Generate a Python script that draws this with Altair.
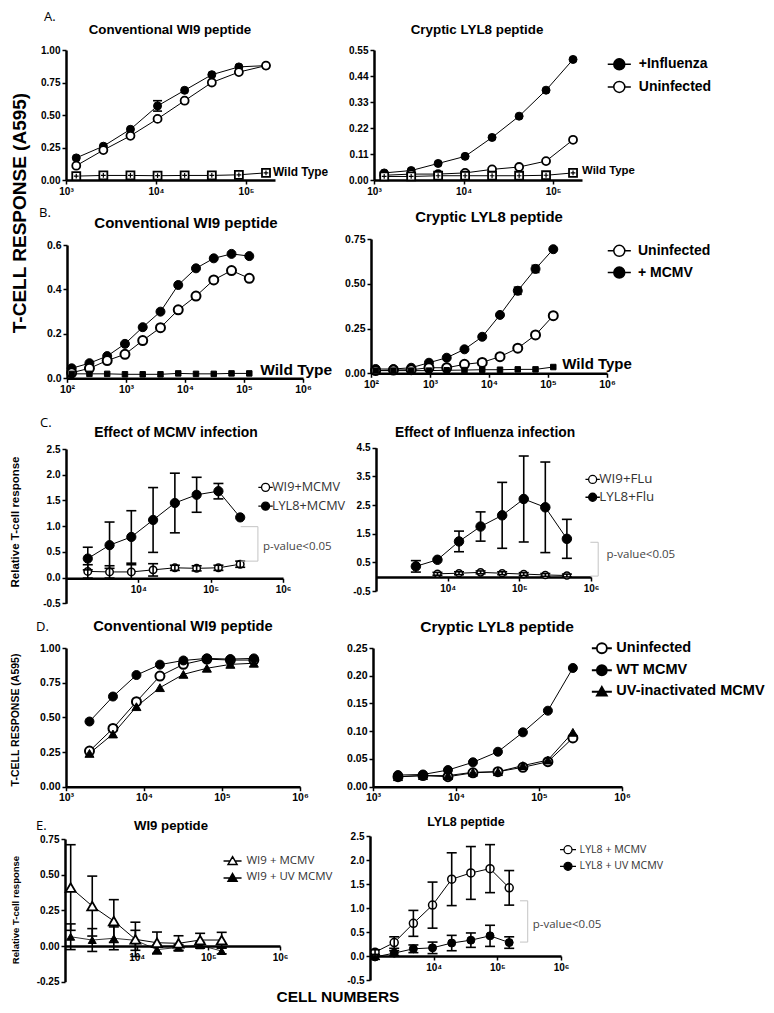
import altair as alt
import pandas as pd

OFF = 8
W, H = 758, 997
BOLD = "Liberation Sans, Arial, Helvetica, DejaVu Sans, sans-serif"
THIN = "Open Sans, DejaVu Sans, sans-serif"


def g(p):
    return p - OFF


# ---------------- data ----------------
A_X = [1300, 2600, 5200, 10400, 20800, 41700, 83300, 166700]
A_L_FLU = [0.17, 0.26, 0.39, 0.57, 0.69, 0.81, 0.87, 0.88]
A_L_FLU_ERR = [0, 0, 0, 0.04, 0, 0, 0, 0]
A_L_UNINF = [0.11, 0.23, 0.34, 0.47, 0.61, 0.75, 0.83, 0.88]
A_L_WT = [0.03, 0.035, 0.035, 0.033, 0.035, 0.035, 0.04, 0.055]
A_R_FLU = [0.03, 0.04, 0.07, 0.10, 0.18, 0.27, 0.38, 0.51]
A_R_UNINF = [0.02, 0.025, 0.025, 0.03, 0.045, 0.055, 0.08, 0.17]
A_R_WT = [0.015, 0.015, 0.018, 0.018, 0.018, 0.018, 0.02, 0.03]

B_X = [120, 240, 480, 960, 1920, 3840, 7680, 15360, 30720, 61440, 122880]
B_L_MCMV = [0.045, 0.068, 0.10, 0.155, 0.23, 0.30, 0.42, 0.495, 0.54, 0.56, 0.55]
B_L_UNINF = [0.025, 0.045, 0.08, 0.108, 0.17, 0.228, 0.308, 0.37, 0.443, 0.485, 0.45]
B_L_WT = [0.02, 0.02, 0.02, 0.018, 0.018, 0.018, 0.022, 0.02, 0.02, 0.022, 0.022]
B_R_MCMV = [0.024, 0.024, 0.031, 0.059, 0.087, 0.134, 0.204, 0.326, 0.461, 0.583, 0.693]
B_R_MCMV_ERR = [0, 0, 0, 0, 0, 0, 0, 0, 0.02, 0.02, 0]
B_R_UNINF = [0.015, 0.018, 0.02, 0.031, 0.031, 0.05, 0.061, 0.093, 0.14, 0.214, 0.322]
B_R_WT = [0.015, 0.015, 0.015, 0.015, 0.017, 0.018, 0.02, 0.02, 0.022, 0.022, 0.035]

C_L_X = [2000, 4000, 8000, 16000, 32000, 64000, 128000, 256000]
C_L_WI9 = [0.12, 0.11, 0.11, 0.15, 0.19, 0.18, 0.19, 0.26]
C_L_WI9_ERR = [0.13, 0.12, 0.14, 0.12, 0.05, 0.05, 0.05, 0.06]
C_L_LYL8 = [0.37, 0.63, 0.79, 1.12, 1.45, 1.61, 1.68, 1.17]
C_L_LYL8_ERR = [0.22, 0.45, 0.51, 0.63, 0.58, 0.34, 0.15, 0.0]

C_R_X = [3600, 7200, 14400, 28800, 57600, 115200, 230400, 460800]
C_R_WI9 = [0.10, 0.12, 0.15, 0.12, 0.09, 0.06, 0.04]
C_R_WI9_ERR = [0.05, 0.05, 0.05, 0.05, 0.05, 0.05, 0.05]
C_R_LYL8 = [0.36, 0.59, 1.23, 1.75, 2.14, 2.71, 2.42, 1.32]
C_R_LYL8_ERR = [0.2, 0.0, 0.36, 0.51, 1.15, 1.5, 1.58, 0.68]

D_X = [2000, 4000, 8000, 16000, 32000, 64000, 128000, 256000]
D_L_UNINF = [0.257, 0.42, 0.613, 0.798, 0.882, 0.92, 0.913, 0.913]
D_L_WT = [0.47, 0.65, 0.805, 0.88, 0.91, 0.925, 0.92, 0.925]
D_L_UV = [0.24, 0.38, 0.577, 0.714, 0.81, 0.854, 0.882, 0.89]
D_R_UNINF = [0.018, 0.02, 0.018, 0.025, 0.027, 0.035, 0.045, 0.088]
D_R_WT = [0.021, 0.022, 0.030, 0.044, 0.063, 0.098, 0.137, 0.214]
D_R_UV = [0.018, 0.02, 0.02, 0.026, 0.027, 0.038, 0.048, 0.098]

E_X = [1200, 2400, 4800, 9600, 19200, 38400, 76800, 153600]
E_L_MCMV = [0.41, 0.28, 0.175, 0.047, 0.023, 0.019, 0.042, 0.042]
E_L_MCMV_ERR = [0.30, 0.21, 0.15, 0.12, 0.075, 0.053, 0.047, 0.054]
E_L_UV = [0.065, 0.042, 0.054, 0.04, -0.025, -0.01, 0.005, -0.035]
E_L_UV_ERR = [0.09, 0.08, 0.08, 0.07, 0.03, 0.02, 0.02, 0.02]
E_R_MCMV = [0.08, 0.28, 0.68, 1.06, 1.60, 1.73, 1.82, 1.42]
E_R_MCMV_ERR = [0.05, 0.12, 0.27, 0.48, 0.55, 0.55, 0.5, 0.36]
E_R_UV = [-0.02, 0.06, 0.15, 0.17, 0.27, 0.33, 0.42, 0.28]
E_R_UV_ERR = [0.05, 0.05, 0.08, 0.12, 0.16, 0.15, 0.22, 0.12]

# ---------------- styling helpers ----------------
KINDS = {
    "fc": ("circle", "black"),
    "oc": ("circle", "white"),
    "ft": ("triangle-up", "black"),
    "ot": ("triangle-up", "white"),
    "sq": ("square", "white"),
    "fs": ("square", "black"),
}

SUP = ("'10' + ['\u2070','\u00b9','\u00b2','\u00b3','\u2074','\u2075','\u2076',"
       "'\u2077','\u2078','\u2079'][round(log(datum.value)/LN10)]")


def stub_path(shape, k):
    if shape == "triangle-up":
        return f"M{-k},0.1L-0.62,0.1M0.62,0.1L{k},0.1M0,-0.866L1,0.866L-1,0.866Z"
    return f"M{-k},0L-1,0M1,0L{k},0M-1,0A1,1,0,1,1,1,0A1,1,0,1,1,-1,0Z"


def ser(label, xs, ys, kind, size, errs=None, sw=1.5, lw=1.0):
    return dict(label=label, x=xs, y=ys, e=errs if errs else [0] * len(xs),
                kind=kind, size=size, sw=sw, lw=lw)


def panel(c, series, legend=None, wt=None, note=None, bracket=None, err_top=False):
    rows = []
    for s in series:
        for x, y, e in zip(s["x"], s["y"], s["e"]):
            rows.append({"x": x, "y": y, "lo": y - e, "hi": y + e, "e": e, "s": s["label"]})
    df = pd.DataFrame(rows)
    xs = alt.Scale(type="log", domain=c["xdom"], range=[g(c["xr"][0]), g(c["xr"][1])], nice=False)
    ys = alt.Scale(type="linear", domain=c["ydom"], range=[g(c["yr"][0]), g(c["yr"][1])],
                   nice=False, zero=False)
    xa = alt.Axis(orient="bottom", offset=g(c["xaxis"]) - H, values=c["xticks"], labelExpr=SUP,
                  title=None, labelFontSize=c["fs"], labelFlush=False, labelOverlap=False)
    ya = alt.Axis(orient="left", offset=-g(c["xr"][0]), values=c["yticks"],
                  labelExpr="replace(format(datum.value, '%s'), '\u2212', '-')" % c["yfmt"],
                  title=None, labelFontSize=c["fs"], labelOverlap=False)

    def X(f="x"):
        return alt.X(f + ":Q", scale=xs, axis=xa)

    def Y(f="y"):
        return alt.Y(f + ":Q", scale=ys, axis=ya)

    base = alt.Chart(df)
    lines, errs, pts = [], [], []
    for s in series:
        sub = base.transform_filter(alt.datum.s == s["label"])
        lines.append(sub.mark_line(color="black", strokeWidth=s["lw"]).encode(x=X(), y=Y()))
        if any(s["e"]):
            se = sub.transform_filter(alt.datum.e > 0)
            errs.append(se.mark_rule(color="black", strokeWidth=1.6).encode(
                x=X(), y=Y("lo"), y2=alt.Y2("hi:Q")))
            for f in ("lo", "hi"):
                errs.append(se.mark_point(shape="M-1,0L1,0", size=c["cap"] ** 2, stroke="black",
                                          strokeWidth=1.6, filled=False, opacity=1).encode(
                    x=X(), y=Y(f)))
        shape, fill = KINDS[s["kind"]]
        pts.append(sub.mark_point(shape=shape, size=s["size"], filled=True, fill=fill,
                                  stroke="black", strokeWidth=s["sw"], opacity=1).encode(
            x=X(), y=Y()))
        if s["kind"] == "sq":
            pts.append(sub.mark_point(shape="M-0.6,0L0.6,0M0,-0.6L0,0.6", size=s["size"],
                                      filled=False, stroke="black", strokeWidth=1.2,
                                      opacity=1).encode(x=X(), y=Y()))
    layers = lines + ((pts + errs) if err_top else (errs + pts))

    if wt:
        s = series[-1]
        tdf = pd.DataFrame({"x": [s["x"][-1]], "y": [s["y"][-1]], "t": ["Wild Type"]})
        layers.append(alt.Chart(tdf).mark_text(
            align="left", baseline="middle", dx=wt["dx"], dy=wt["dy"], font=BOLD,
            fontWeight="bold", fontSize=wt["fs"], color="black").encode(x=X(), y=Y(), text="t:N"))
    if bracket:
        bdf = pd.DataFrame({"x": bracket["x"], "y": bracket["y"], "o": list(range(len(bracket["x"])))})
        layers.append(alt.Chart(bdf).mark_line(color="#c4c4c4", strokeWidth=1).encode(
            x=X(), y=Y(), order="o:Q"))
    if note:
        ndf = pd.DataFrame({"x": [note["x"]], "y": [note["y"]], "t": ["p-value<0.05"]})
        layers.append(alt.Chart(ndf).mark_text(
            align="left", baseline="middle", font=THIN, fontSize=note["fs"],
            color="#444444").encode(x=X(), y=Y(), text="t:N"))
    if legend:
        dom = [lab for lab, k in legend["entries"]]
        fills = [KINDS[k][1] for lab, k in legend["entries"]]
        paths = [stub_path(KINDS[k][0], legend["k"]) for lab, k in legend["entries"]]
        L = alt.Legend(orient="none", legendX=g(legend["x"]), legendY=g(legend["y"]), title=None,
                       padding=0, labelFont=legend["font"], labelFontSize=legend["fs"],
                       labelFontWeight=legend["fw"], labelColor=legend["color"],
                       labelOffset=legend["lo"], rowPadding=legend["rp"],
                       symbolSize=legend["size"], symbolStrokeWidth=legend["sw"],
                       symbolStrokeColor="black", labelLimit=0)
        leg = base.transform_filter("false").mark_point(
            filled=True, strokeWidth=legend["sw"], opacity=1).encode(
            fill=alt.Fill("s:N", scale=alt.Scale(domain=dom, range=fills), legend=L),
            stroke=alt.Stroke("s:N", scale=alt.Scale(domain=dom, range=["black"] * len(dom)), legend=L),
            shape=alt.Shape("s:N", scale=alt.Scale(domain=dom, range=paths), legend=L))
        layers.append(leg)
    return alt.layer(*layers)


# ---------------- panels ----------------
panels = []

cA_L = dict(xdom=[1000, 10 ** 5.322], xr=[66, 275], ydom=[0, 1], yr=[180, 50], xaxis=180,
            xticks=[1e3, 1e4, 1e5], yticks=[0, 0.25, 0.5, 0.75, 1.0], yfmt=".2f", fs=10, cap=9)
panels.append(panel(cA_L, [
    ser("+Influenza", A_X, A_L_FLU, "fc", 64, A_L_FLU_ERR, sw=1),
    ser("Uninfected", A_X, A_L_UNINF, "oc", 64, sw=1.8),
    ser("Wild Type", A_X, A_L_WT, "sq", 64, sw=1.8),
], wt=dict(dx=7, dy=-1, fs=11.9)))

cA_R = dict(xdom=[1000, 10 ** 5.322], xr=[374, 582], ydom=[0, 0.55], yr=[180, 50], xaxis=180,
            xticks=[1e3, 1e4, 1e5], yticks=[0, 0.11, 0.22, 0.33, 0.44, 0.55], yfmt=".2f", fs=10, cap=9)
panels.append(panel(cA_R, [
    ser("+Influenza", A_X, A_R_FLU, "fc", 64, sw=1),
    ser("Uninfected", A_X, A_R_UNINF, "oc", 64, sw=1.8),
    ser("Wild Type", A_X, A_R_WT, "sq", 64, sw=1.8),
], wt=dict(dx=9, dy=-2, fs=11.4),
    legend=dict(entries=[("+Influenza", "fc"), ("Uninfected", "oc")], x=612.3, y=57.3, k=2.1,
                font=BOLD, fs=14, fw="bold", color="black", lo=12.5, rp=4.6, size=121, sw=1.5)))

cB_L = dict(xdom=[100, 1e6], xr=[67, 303], ydom=[0, 0.6], yr=[378.3, 245], xaxis=378.3,
            xticks=[1e2, 1e3, 1e4, 1e5, 1e6], yticks=[0, 0.2, 0.4, 0.6], yfmt=".1f", fs=10.5, cap=8)
panels.append(panel(cB_L, [
    ser("+ MCMV", B_X, B_L_MCMV, "fc", 81, sw=1),
    ser("Uninfected", B_X, B_L_UNINF, "oc", 81, sw=2),
    ser("Wild Type", B_X, B_L_WT, "fs", 30, sw=1),
], wt=dict(dx=11, dy=-3.5, fs=15.5)))

cB_R = dict(xdom=[100, 1e6], xr=[371, 607], ydom=[0, 0.75], yr=[373.3, 239], xaxis=373.3,
            xticks=[1e2, 1e3, 1e4, 1e5, 1e6], yticks=[0, 0.25, 0.5, 0.75], yfmt=".2f", fs=10.5, cap=8)
panels.append(panel(cB_R, [
    ser("+ MCMV", B_X, B_R_MCMV, "fc", 81, B_R_MCMV_ERR, sw=1),
    ser("Uninfected", B_X, B_R_UNINF, "oc", 81, sw=2),
    ser("Wild Type", B_X, B_R_WT, "fs", 30, sw=1),
], wt=dict(dx=9, dy=-3, fs=15),
    legend=dict(entries=[("Uninfected", "oc"), ("+ MCMV", "fc")], x=612.3, y=243.8, k=2.1,
                font=BOLD, fs=14, fw="bold", color="black", lo=11.7, rp=3.8, size=121, sw=1.5)))

cC_L = dict(xdom=[1000, 1e6], xr=[66, 283], ydom=[-0.5, 2.5], yr=[603.3, 449], xaxis=578.3,
            xticks=[1e4, 1e5, 1e6], yticks=[-0.5, 0, 0.5, 1.0, 1.5, 2.0, 2.5], yfmt=".1f", fs=10, cap=10)
panels.append(panel(cC_L, [
    ser("WI9+MCMV", C_L_X, C_L_WI9, "oc", 56, C_L_WI9_ERR, sw=1.5),
    ser("LYL8+MCMV", C_L_X, C_L_LYL8, "fc", 85, C_L_LYL8_ERR, sw=1),
], err_top=True,
    bracket=dict(x=[2.6e5, 4.5e5, 4.5e5, 2.6e5], y=[0.99, 0.99, 0.32, 0.32]),
    note=dict(x=5.3e5, y=0.59, fs=11.5),
    legend=dict(entries=[("WI9+MCMV", "oc"), ("LYL8+MCMV", "fc")], x=259.2, y=481.0, k=1.8,
                font=THIN, fs=12.7, fw="normal", color="#333333", lo=0, rp=3.8, size=64, sw=1.3)))

cC_R = dict(xdom=[1000, 1e6], xr=[376, 591], ydom=[-0.5, 4.5], yr=[591, 447.7], xaxis=577,
            xticks=[1e4, 1e5, 1e6], yticks=[-0.5, 0.5, 1.5, 2.5, 3.5, 4.5], yfmt=".1f", fs=10, cap=10)
panels.append(panel(cC_R, [
    ser("WI9+FLu", C_R_X[1:], C_R_WI9, "oc", 50, C_R_WI9_ERR, sw=1.5),
    ser("LYL8+Flu", C_R_X, C_R_LYL8, "fc", 90, C_R_LYL8_ERR, sw=1),
], err_top=True,
    bracket=dict(x=[9.8e5, 1.26e6, 1.26e6, 9.8e5], y=[1.2, 1.2, 0.02, 0.02]),
    note=dict(x=1.65e6, y=0.77, fs=11.5),
    legend=dict(entries=[("WI9+FLu", "oc"), ("LYL8+Flu", "fc")], x=586.0, y=472.8, k=1.8,
                font=THIN, fs=13.3, fw="normal", color="#333333", lo=0, rp=2.8, size=64, sw=1.3)))

cD_L = dict(xdom=[1000, 1e6], xr=[66, 300], ydom=[0, 1], yr=[786.7, 648], xaxis=786.7,
            xticks=[1e3, 1e4, 1e5, 1e6], yticks=[0, 0.25, 0.5, 0.75, 1.0], yfmt=".2f", fs=10.5, cap=8)
panels.append(panel(cD_L, [
    ser("Uninfected", D_X, D_L_UNINF, "oc", 81, sw=2),
    ser("WT MCMV", D_X, D_L_WT, "fc", 81, sw=1),
    ser("UV-inactivated MCMV", D_X, D_L_UV, "ft", 81, sw=1),
]))

cD_R = dict(xdom=[1000, 1e6], xr=[373, 622], ydom=[0, 0.25], yr=[786.7, 648], xaxis=786.7,
            xticks=[1e3, 1e4, 1e5, 1e6], yticks=[0, 0.05, 0.10, 0.15, 0.20, 0.25], yfmt=".2f",
            fs=10.5, cap=8)
panels.append(panel(cD_R, [
    ser("Uninfected", D_X, D_R_UNINF, "oc", 81, sw=2),
    ser("UV-inactivated MCMV", D_X, D_R_UV, "ft", 81, sw=1),
    ser("WT MCMV", D_X, D_R_WT, "fc", 81, sw=1),
], legend=dict(entries=[("Uninfected", "oc"), ("WT MCMV", "fc"), ("UV-inactivated MCMV", "ft")],
               x=594.6, y=641.0, k=2.0, font=BOLD, fs=14.5, fw="bold", color="black",
               lo=7.2, rp=4.0, size=100, sw=1.8)))

cE_L = dict(xdom=[1000, 1e6], xr=[65, 280], ydom=[-0.25, 0.75], yr=[981.7, 839], xaxis=946,
            xticks=[1e4, 1e5, 1e6], yticks=[-0.25, 0, 0.25, 0.5, 0.75], yfmt=".2f", fs=10, cap=10)
panels.append(panel(cE_L, [
    ser("WI9 + UV MCMV", E_X, E_L_UV, "ft", 64, E_L_UV_ERR, sw=1, lw=0.8),
    ser("WI9 + MCMV", E_X, E_L_MCMV, "ot", 100, E_L_MCMV_ERR, sw=1.8),
], legend=dict(entries=[("WI9 + MCMV", "ot"), ("WI9 + UV MCMV", "ft")], x=226.8, y=854.8, k=2.0,
               font=THIN, fs=11.5, fw="normal", color="#333333", lo=8.2, rp=1.9, size=81, sw=1.5)))

cE_R = dict(xdom=[1000, 1e6], xr=[370, 561], ydom=[-0.5, 2.5], yr=[980, 836], xaxis=956,
            xticks=[1e4, 1e5, 1e6], yticks=[-0.5, 0, 0.5, 1.0, 1.5, 2.0, 2.5], yfmt=".1f", fs=10, cap=10)
panels.append(panel(cE_R, [
    ser("LYL8 + UV MCMV", E_X, E_R_UV, "fc", 64, E_R_UV_ERR, sw=1),
    ser("LYL8 + MCMV", E_X, E_R_MCMV, "oc", 64, E_R_MCMV_ERR, sw=1.5),
], err_top=True,
    bracket=dict(x=[2.27e5, 3.0e5, 3.0e5, 2.27e5], y=[1.15, 1.15, 0.29, 0.29]),
    note=dict(x=3.6e5, y=0.64, fs=11.5),
    legend=dict(entries=[("LYL8 + MCMV", "oc"), ("LYL8 + UV MCMV", "fc")], x=562.7, y=844.4, k=2.0,
                font=THIN, fs=10.6, fw="normal", color="#333333", lo=6.3, rp=2.6, size=64, sw=1.3)))

# ---------------- free text ----------------
TEXTS = [
    ("A.", 44, 17, 13, "normal", THIN, 0, "left"),
    ("Conventional WI9 peptide", 170, 30, 13.3, "bold", BOLD, 0, "center"),
    ("Cryptic LYL8 peptide", 477, 30, 13.4, "bold", BOLD, 0, "center"),
    ("B.", 39, 213, 13, "normal", THIN, 0, "left"),
    ("Conventional WI9 peptide", 186, 223, 15, "bold", BOLD, 0, "center"),
    ("Cryptic LYL8 peptide", 489, 218, 14.9, "bold", BOLD, 0, "center"),
    ("C.", 40, 423, 13, "normal", THIN, 0, "left"),
    ("Effect of MCMV infection", 176, 433, 13.9, "bold", BOLD, 0, "center"),
    ("Effect of Influenza infection", 485, 433, 13.8, "bold", BOLD, 0, "center"),
    ("D.", 36, 627, 13, "normal", THIN, 0, "left"),
    ("Conventional WI9 peptide", 183, 627, 14.7, "bold", BOLD, 0, "center"),
    ("Cryptic LYL8 peptide", 497, 627, 15.5, "bold", BOLD, 0, "center"),
    ("E.", 36, 826, 13, "normal", THIN, 0, "left"),
    ("WI9 peptide", 171, 826, 13.2, "bold", BOLD, 0, "center"),
    ("LYL8 peptide", 466, 822, 12.5, "bold", BOLD, 0, "center"),
    ("T-CELL RESPONSE (A595)", 20, 213, 19, "bold", BOLD, 270, "center"),
    ("Relative T-cell response", 16, 522, 11.5, "bold", BOLD, 270, "center"),
    ("T-CELL RESPONSE (A595)", 16, 720, 10.5, "bold", BOLD, 270, "center"),
    ("Relative T-cell response", 16, 910, 9.5, "bold", BOLD, 270, "center"),
    ("CELL NUMBERS", 338, 997, 15.5, "bold", BOLD, 0, "center"),
]

texts = []
for t, x, y, fs, fw, font, ang, al in TEXTS:
    texts.append(alt.Chart(pd.DataFrame({"t": [t]})).mark_text(
        align=al, baseline="middle", fontSize=fs, fontWeight=fw, font=font, angle=ang,
        color="black").encode(text="t:N", x=alt.value(g(x)), y=alt.value(g(y))))

chart = alt.layer(*panels, *texts).resolve_scale(
    x="independent", y="independent", fill="independent", shape="independent",
    stroke="independent"
).properties(
    width=W, height=H, padding=0, autosize=alt.AutoSizeParams(type="none")
).configure_view(stroke=None).configure_axis(
    grid=False, domainColor="black", domainWidth=2.5, tickColor="black", tickWidth=1.5,
    tickSize=4, labelFont=BOLD, labelFontWeight="bold", labelColor="black", labelPadding=2
)

chart.save("out.html", embed_options={"renderer": "svg", "actions": False})
